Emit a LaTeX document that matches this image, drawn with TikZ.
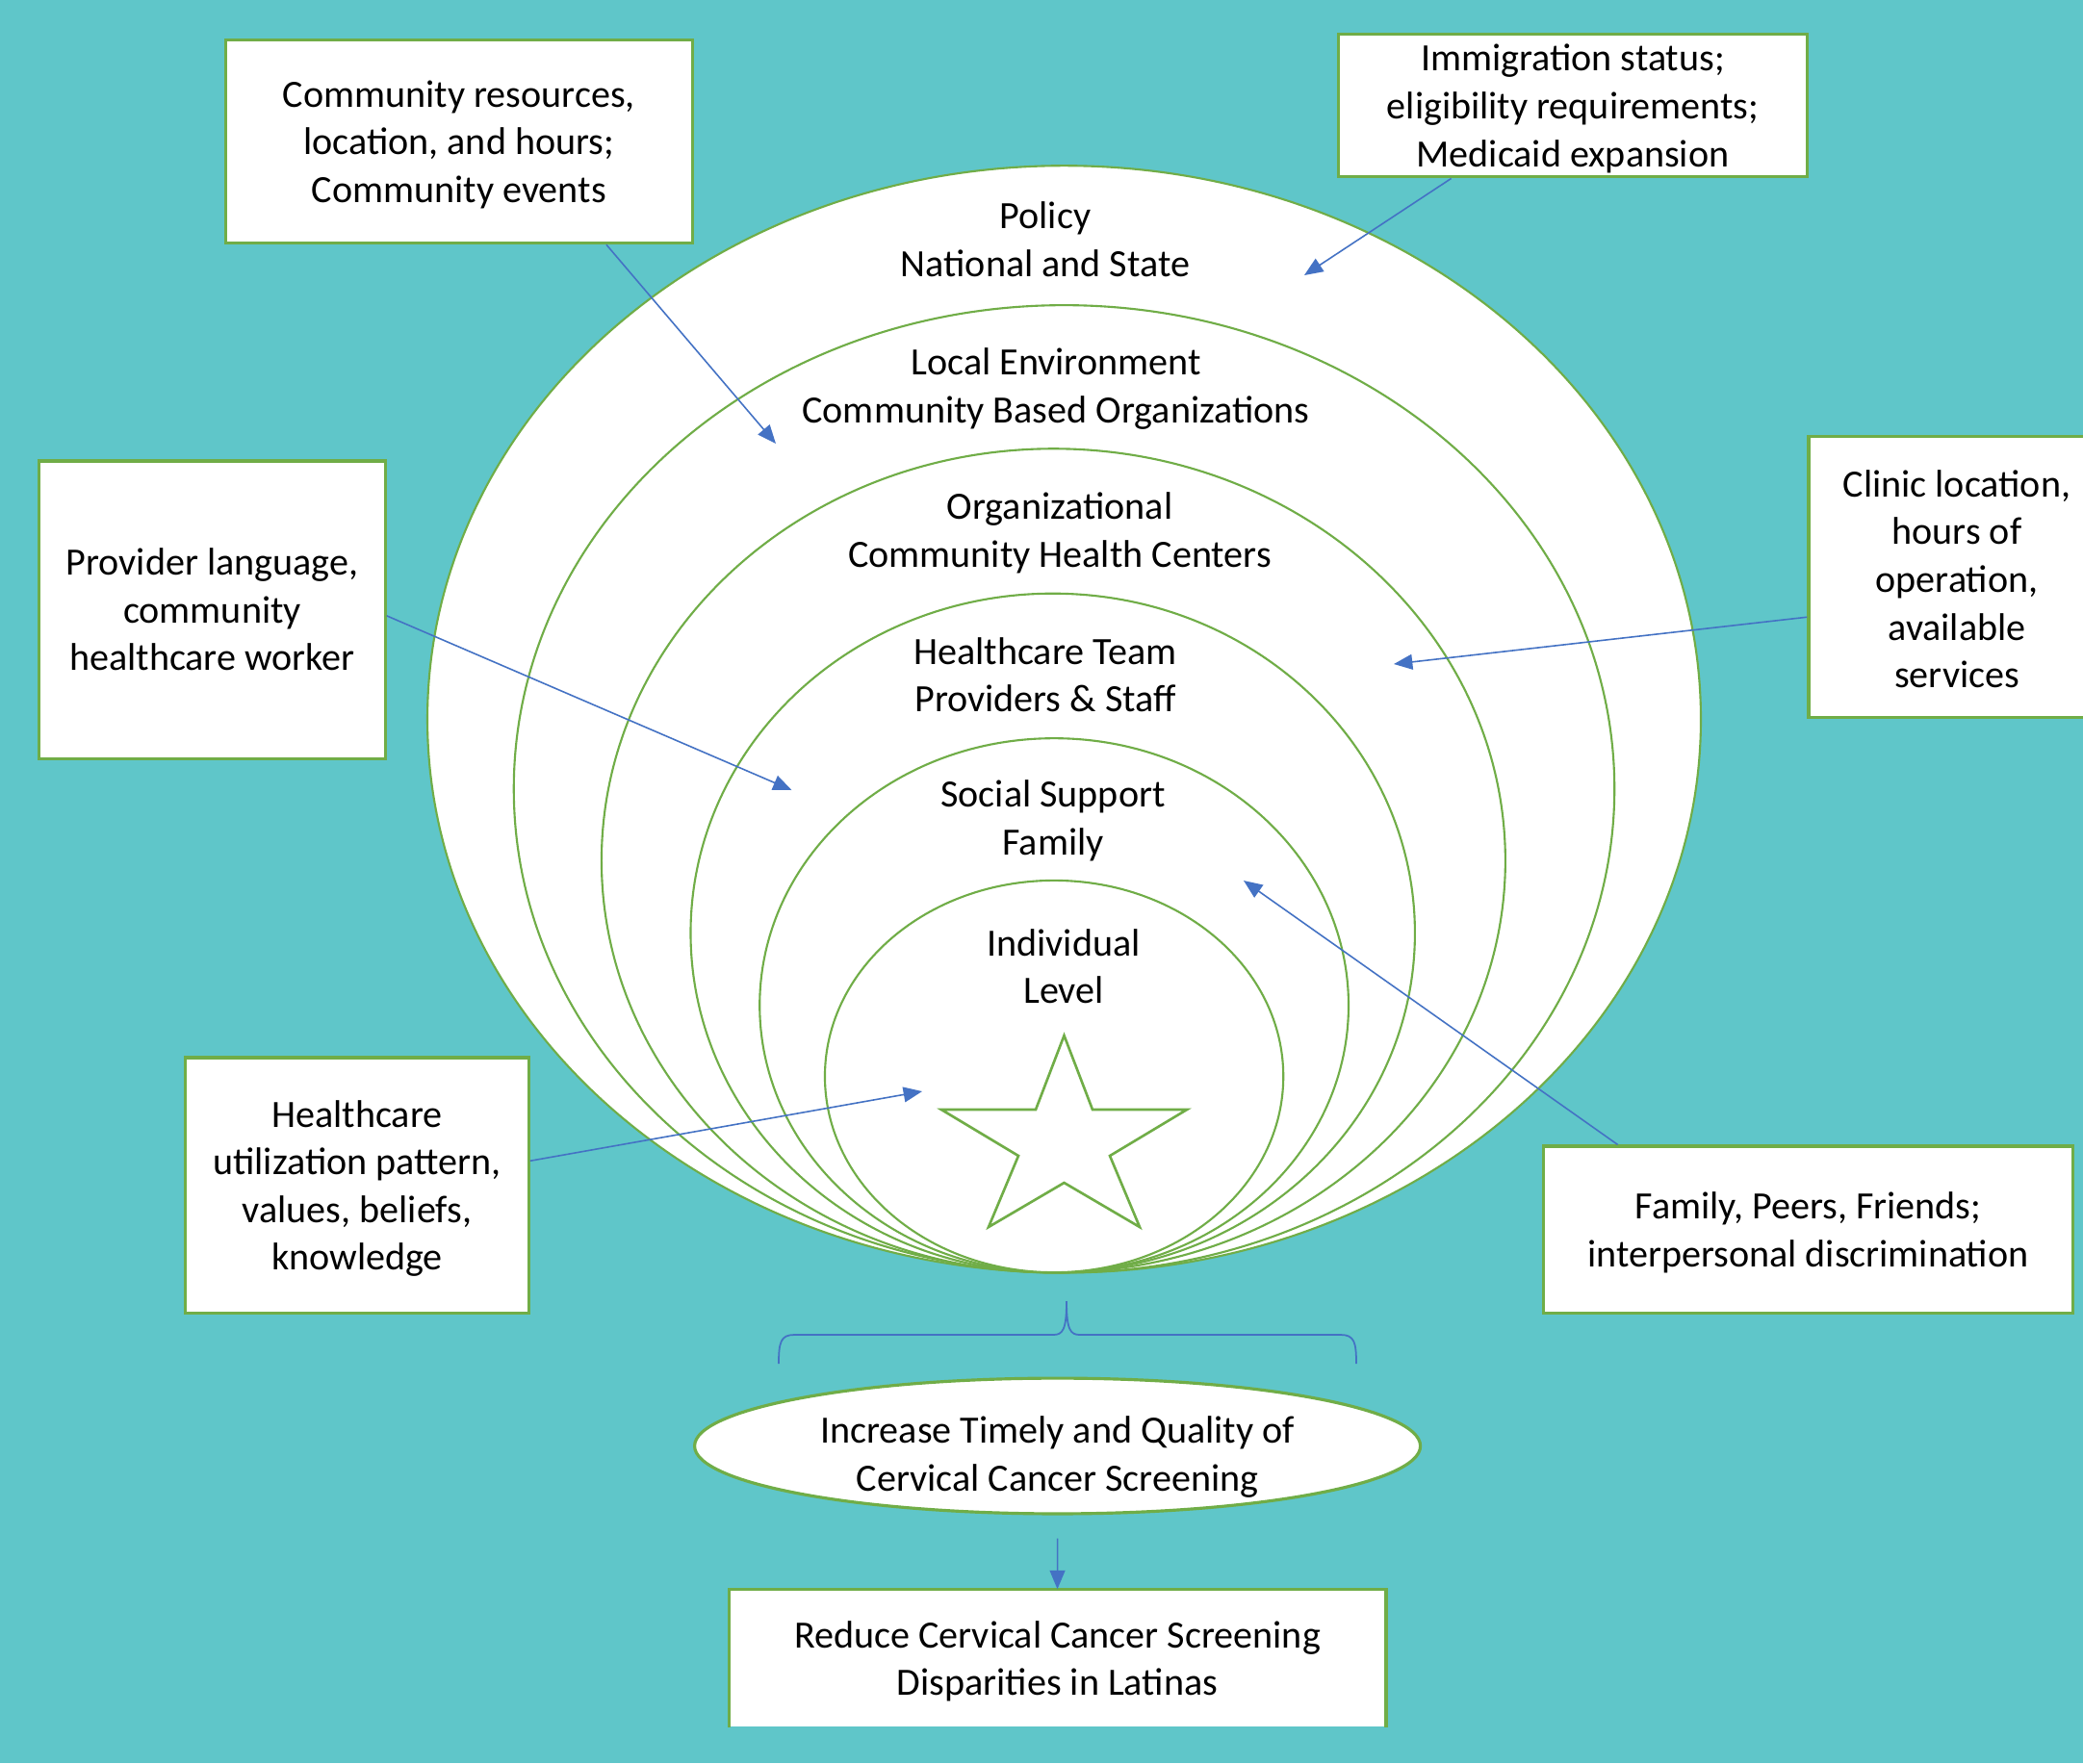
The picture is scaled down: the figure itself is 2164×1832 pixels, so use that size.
\documentclass[tikz,border=0pt]{standalone}
\usepackage{fontspec}
\setmainfont{Carlito}
\usetikzlibrary{arrows.meta,shapes.geometric}
\definecolor{bgteal}{RGB}{95,198,201}
\definecolor{ogreen}{RGB}{112,173,71}
\definecolor{oblue}{RGB}{68,114,196}
\newcommand{\lowertext}[2]{\raisebox{-#1}[\height][\depth]{\begin{tabular}{@{}c@{}}#2\end{tabular}}}
\begin{document}
\begin{tikzpicture}[x=0.01cm,y=-0.01cm,
  font=\fontsize{11.4}{14.1}\selectfont,
  box/.style={draw=ogreen, line width=0.9pt, fill=white, align=center, inner sep=0pt},
  lvl/.style={align=center, inner sep=0pt},
  ring/.style={draw=ogreen, line width=0.6pt, fill=white},
  arr/.style={draw=oblue, line width=0.45pt, -{Triangle[length=5.5pt,width=4.5pt]}, fill=none},
  bracest/.style={draw=oblue, line width=0.5pt}]
\useasboundingbox (0,0) rectangle (2164,1832);
\fill[bgteal] (0,0) rectangle (2164,1832);

% nested levels
\path[ring] (1105.5,747.3) ellipse [x radius=6.611cm, y radius=5.748cm];
\path[ring] (1105.5,819.7) ellipse [x radius=5.714cm, y radius=5.023cm];
\path[ring] (1094.4,894.3) ellipse [x radius=4.692cm, y radius=4.278cm];
\path[ring] (1093.7,969.5) ellipse [x radius=3.76cm, y radius=3.526cm];
\path[ring] (1095.1,1044.7) ellipse [x radius=3.057cm, y radius=2.774cm];
\path[ring] (1095.1,1118.5) ellipse [x radius=2.38cm, y radius=2.035cm];

% star
\draw[draw=ogreen, line width=0.75pt, line join=miter]
  (1105.5,1076) -- (1135,1153) -- (1233,1153) -- (1153,1201) -- (1184,1275)
  -- (1105.5,1229) -- (1027,1275) -- (1058,1201) -- (978,1153) -- (1076,1153) -- cycle;

% level labels
\node[lvl] (pol) at (1086,248.5) {Policy\\National and State};
\node[lvl] (loc) at (1097,404) {Local Environment\\Community Based Organizations};
\node[lvl] (org) at (1101,554) {Organizational\\Community Health Centers};
\node[lvl] (hct) at (1086,701) {Healthcare Team\\Providers \& Staff};
\node[lvl] (soc) at (1094,853) {Social Support\\Family};
\node[lvl] (ind) at (1105,1004) {Individual\\Level};

% factor boxes
\node[box, minimum width=4.844cm, minimum height=2.112cm] (A) at (476.8,147)
  {\lowertext{0.04cm}{Community resources,\\location, and hours;\\Community events}};
\node[box, minimum width=4.86cm, minimum height=1.45cm] (B) at (1634,109.5)
  {\lowertext{0.04cm}{Immigration status;\\eligibility requirements;\\Medicaid expansion}};
\node[box, minimum width=3.59cm, minimum height=3.09cm] (C) at (220.5,633.5)
  {Provider language,\\community\\healthcare worker};
\node[box, minimum width=3.08cm, minimum height=2.92cm] (D) at (2033,599.5)
  {\lowertext{0.06cm}{Clinic location,\\hours of\\operation,\\available\\services}};
\node[box, minimum width=3.56cm, minimum height=2.65cm] (E) at (371,1231.5)
  {\lowertext{0.04cm}{Healthcare\\utilization pattern,\\values, beliefs,\\knowledge}};
\node[box, minimum width=5.49cm, minimum height=1.73cm] (F) at (1878.5,1277.5)
  {\lowertext{0.04cm}{Family, Peers, Friends;\\interpersonal discrimination}};

% outcome
\node[ellipse, draw=ogreen, line width=0.9pt, fill=white, align=center, inner sep=0pt,
  minimum width=7.536cm, minimum height=1.408cm] (G) at (1098.6,1502.5)
  {\lowertext{0.12cm}{Increase Timely and Quality of\\Cervical Cancer Screening}};
\node[fill=white, align=center, inner sep=0pt, minimum width=6.81cm, minimum height=1.42cm]
  (H) at (1098.5,1723) {\lowertext{0.04cm}{Reduce Cervical Cancer Screening\\Disparities in Latinas}};
\draw[draw=ogreen, line width=0.9pt] (H.south west) -- (H.north west) -- (H.north east) -- (H.south east);

% brace
\coordinate (bl) at (809,1417);
\coordinate (br) at (1409,1417);
\coordinate (bt) at (1108,1352);
\draw[bracest] (bl) .. controls (809,1395) and (811,1387) .. (825,1387) -- (1094,1387)
  .. controls (1104,1387) and (1108,1382) .. (bt)
  .. controls (1108,1382) and (1112,1387) .. (1122,1387) -- (1393,1387)
  .. controls (1407,1387) and (1409,1395) .. (br);

% arrows
\coordinate (e1) at (806,461);
\coordinate (e2) at (1355,286);
\coordinate (e3) at (822.5,821);
\coordinate (e4) at (1448,690);
\coordinate (e5) at (958,1134);
\coordinate (e6) at (1292,915);
\draw[arr] (A.-35) -- (e1);
\draw[arr] (B.-149) -- (e2);
\draw[arr] (C.-2) -- (e3);
\draw[arr] (D.-165) -- (e4);
\draw[arr] (E.8) -- (e5);
\draw[arr] (F.156) -- (e6);
\draw[arr] ([yshift=-0.24cm]G.south) -- (H.north);
\end{tikzpicture}
\end{document}
